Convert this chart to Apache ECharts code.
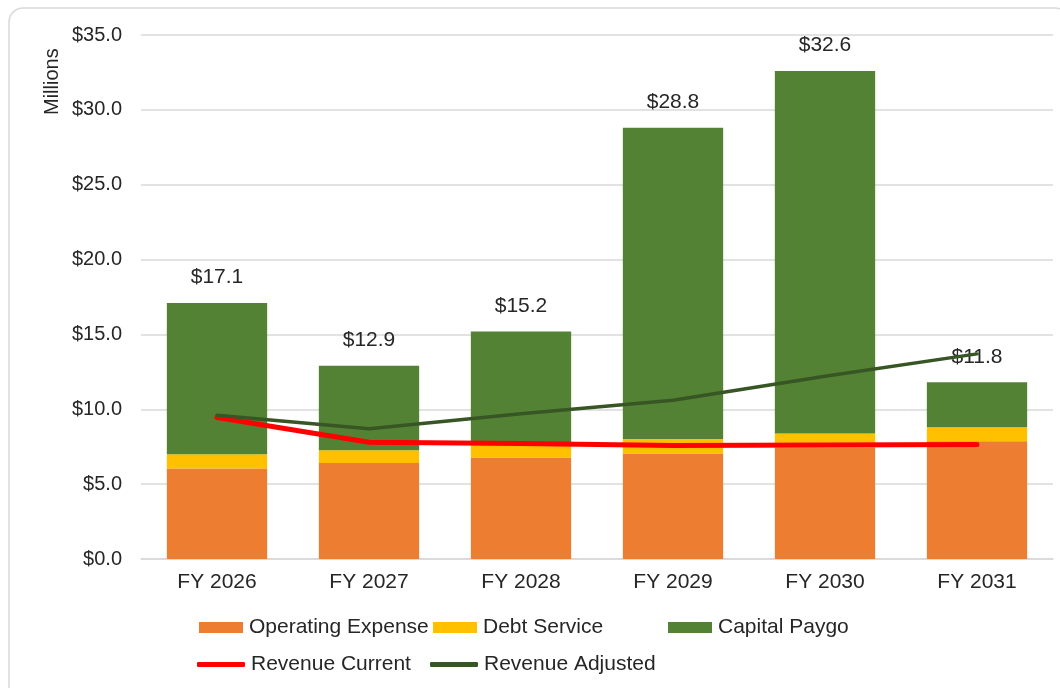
<!DOCTYPE html>
<html>
<head>
<meta charset="utf-8">
<script src="https://cdn.jsdelivr.net/npm/echarts@6/dist/echarts.min.js"></script>
<style>
  html, body { margin: 0; padding: 0; background: #fff; }
  #main { width: 1060px; height: 688px; }
</style>
</head>
<body>
<div id="main"></div>
<script>
const categories = ['FY 2026', 'FY 2027', 'FY 2028', 'FY 2029', 'FY 2030', 'FY 2031'];
const operatingExpense = [6.05, 6.42, 6.78, 7.05, 7.45, 7.87];
const debtService = [0.95, 0.85, 0.82, 0.97, 0.93, 0.93];
const capitalPaygo = [10.1, 5.63, 7.6, 20.78, 24.22, 3.0];
const revenueCurrent = [9.45, 7.8, 7.72, 7.58, 7.62, 7.65];
const revenueAdjusted = [9.6, 8.7, 9.7, 10.6, 12.2, 13.7];
const yTicks = [0, 5, 10, 15, 20, 25, 30, 35];

const myChart = echarts.init(document.getElementById('main'));
const font = 'Liberation Sans, Arial, sans-serif';

const totals = categories.map((_, i) => operatingExpense[i] + debtService[i] + capitalPaygo[i]);

const legendText = { fontFamily: font, fontSize: 21, color: '#262626', padding: [0, 0, 0, 1] };
function legendItem(name, left, top, line) {
  return {
    data: [name],
    left: left,
    top: top,
    padding: 0,
    itemWidth: line ? 48 : 44,
    itemHeight: line ? 5 : 11,
    icon: line ? 'roundRect' : 'rect',
    textStyle: legendText,
    selectedMode: false,
  };
}

myChart.setOption({
  animation: false,
  grid: { left: 141, right: 7, top: 35, bottom: 129 },
  graphic: [
    {
      type: 'rect',
      shape: { x: 9, y: 8, width: 1060, height: 700, r: 14 },
      style: { fill: 'none', stroke: '#d9d9d9', lineWidth: 1.5 },
    },
    {
      type: 'text',
      x: 42,
      y: 115,
      rotation: Math.PI / 2,
      style: { text: 'Millions', font: '20px ' + font, fill: '#262626' },
    },
  ],
  legend: [
    legendItem('Operating Expense', 199, 617, false),
    legendItem('Debt Service', 433, 617, false),
    legendItem('Capital Paygo', 668, 617, false),
    legendItem('Revenue Current', 197, 654, true),
    legendItem('Revenue Adjusted', 430, 654, true),
  ],
  xAxis: {
    type: 'category',
    data: categories,
    axisLine: { lineStyle: { color: '#d9d9d9', width: 1.5 } },
    axisTick: { show: false },
    axisLabel: { fontFamily: font, fontSize: 21, color: '#262626', margin: 13 },
  },
  yAxis: {
    type: 'value',
    min: yTicks[0],
    max: yTicks[yTicks.length - 1],
    interval: 5,
    axisLine: { show: false },
    axisTick: { show: false },
    splitLine: { lineStyle: { color: '#d9d9d9', width: 1.5 } },
    axisLabel: {
      fontFamily: font,
      fontSize: 20,
      color: '#262626',
      margin: 19,
      formatter: (v) => '$' + v.toFixed(1),
    },
  },
  series: [
    {
      name: 'Operating Expense',
      type: 'bar',
      stack: 'total',
      barCategoryGap: '34%',
      itemStyle: { color: '#ED7D31' },
      data: operatingExpense,
    },
    {
      name: 'Debt Service',
      type: 'bar',
      stack: 'total',
      itemStyle: { color: '#FFC000' },
      data: debtService,
    },
    {
      name: 'Capital Paygo',
      type: 'bar',
      stack: 'total',
      itemStyle: { color: '#548235' },
      label: {
        show: true,
        position: 'top',
        distance: 15,
        fontFamily: font,
        fontSize: 21,
        color: '#262626',
        formatter: (p) => '$' + totals[p.dataIndex].toFixed(1),
      },
      data: capitalPaygo,
    },
    {
      name: 'Revenue Current',
      type: 'line',
      symbol: 'none',
      lineStyle: { color: '#FF0000', width: 5, cap: 'round' },
      itemStyle: { color: '#FF0000' },
      data: revenueCurrent,
    },
    {
      name: 'Revenue Adjusted',
      type: 'line',
      symbol: 'none',
      lineStyle: { color: '#375623', width: 3.5, cap: 'round' },
      itemStyle: { color: '#375623' },
      data: revenueAdjusted,
    },
  ],
});
</script>
</body>
</html>
